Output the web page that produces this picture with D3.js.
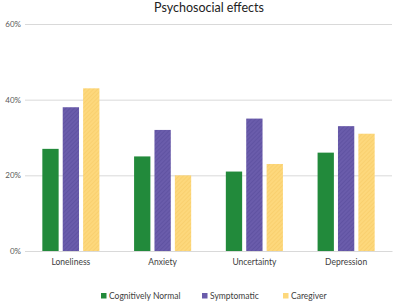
<!DOCTYPE html>
<html><head><meta charset="utf-8">
<script src="https://cdn.jsdelivr.net/npm/d3@7"></script>
<style>body{margin:0;background:#fff;}svg{display:block;}</style>
</head><body>
<script>
const categories = ["Loneliness", "Anxiety", "Uncertainty", "Depression"];
const seriesNames = ["Cognitively Normal", "Symptomatic", "Caregiver"];
const cognitivelyNormal = [27, 25, 21, 26];
const symptomatic = [38, 32, 35, 33];
const caregiver = [43, 20, 23, 31];
const yTicks = [0, 20, 40, 60];
const seriesValues = [cognitivelyNormal, symptomatic, caregiver];
const colors = ["#228a3b", "#6a5cab", "#fdd87c"];

const W = 400, H = 301;
const svg = d3.select("body").append("svg").attr("width", W).attr("height", H);
const font = "Lato, 'Open Sans', sans-serif";

const defs = svg.append("defs");
const hatch = [null, "#5a4d9c", "#f6cc66"];
colors.forEach((c, i) => {
  const p = defs.append("pattern").attr("id", "pat" + i).attr("patternUnits", "userSpaceOnUse")
    .attr("width", 3).attr("height", 3).attr("patternTransform", "rotate(45)");
  p.append("rect").attr("width", 3).attr("height", 3).attr("fill", c);
  if (hatch[i]) p.append("rect").attr("width", 1).attr("height", 3).attr("fill", hatch[i]).attr("opacity", 0.6);
});

const pLeft = 25, pRight = 392, pTop = 24, pBottom = 251;
const x = d3.scaleBand().domain(categories).range([pLeft, pRight]);
const xs = d3.scaleBand().domain(seriesNames).range([0, x.bandwidth()]).paddingInner(0.2).paddingOuter(0.85);
const y = d3.scaleLinear().domain([0, 60]).range([pBottom, pTop]);

svg.append("text").attr("x", 209).attr("y", 12).attr("text-anchor", "middle")
  .attr("font-family", font).attr("font-size", 12.5).attr("fill", "#222").text("Psychosocial effects");

const yAxis = svg.append("g").attr("transform", `translate(${pLeft},0)`)
  .call(d3.axisLeft(y).tickValues(yTicks).tickSize(-(pRight - pLeft)).tickFormat(d => d + "%"));
yAxis.select(".domain").remove();
yAxis.selectAll(".tick line").attr("stroke", "#d9d9d9");
yAxis.selectAll(".tick text").attr("x", -4).attr("font-family", font).attr("font-size", 8).attr("fill", "#595959");

const groups = svg.append("g").selectAll("g").data(categories).join("g")
  .attr("transform", d => `translate(${x(d)},0)`);
seriesNames.forEach((s, si) => {
  groups.append("rect")
    .attr("x", xs(s)).attr("width", xs.bandwidth())
    .attr("y", (d, ci) => y(seriesValues[si][ci]))
    .attr("height", (d, ci) => pBottom - y(seriesValues[si][ci]))
    .attr("fill", `url(#pat${si})`);
});

const xAxis = svg.append("g").attr("transform", `translate(0,${pBottom})`)
  .call(d3.axisBottom(x).tickSize(0).tickPadding(8));
xAxis.select(".domain").attr("stroke", "#d9d9d9");
xAxis.selectAll(".tick text").attr("font-family", font).attr("font-size", 8.5).attr("fill", "#404040");

const legendX = [101, 202, 283];
const leg = svg.append("g").selectAll("g").data(seriesNames).join("g")
  .attr("transform", (d, i) => `translate(${legendX[i]},296)`);
leg.append("rect").attr("x", 0).attr("y", -3).attr("width", 5.5).attr("height", 5.5).attr("fill", (d, i) => colors[i]);
leg.append("text").attr("x", 8).attr("y", 3).attr("font-family", font).attr("font-size", 8.5).attr("fill", "#404040").text(d => d);
</script>
</body></html>
